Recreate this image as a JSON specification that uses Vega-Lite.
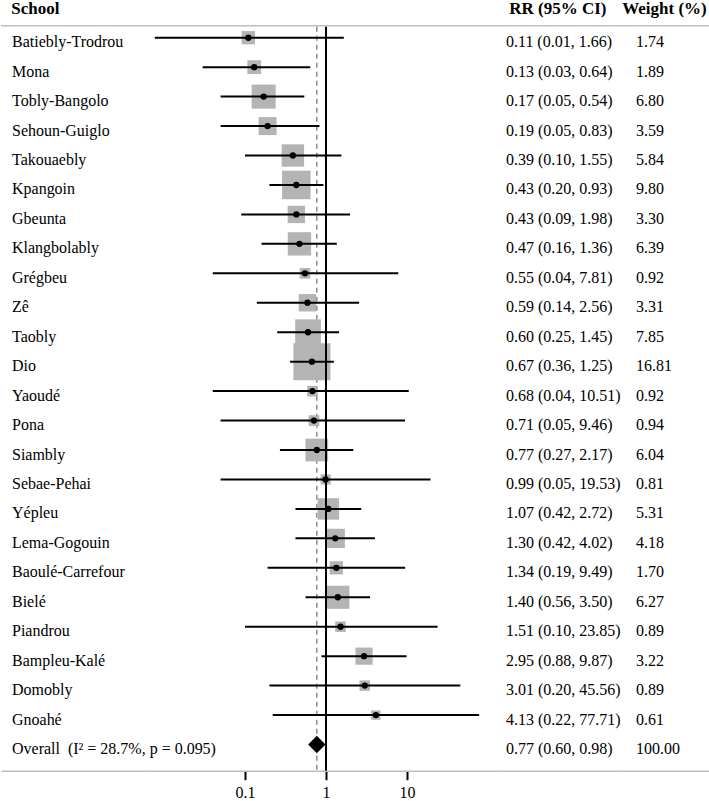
{
  "$schema": "https://vega.github.io/schema/vega-lite/v6.json",
  "padding": 0,
  "spacing": 0,
  "bounds": "flush",
  "background": "white",
  "config": {
    "font": "Liberation Serif, Times New Roman, DejaVu Serif, serif",
    "view": {"stroke": null},
    "title": {"font": "Liberation Serif, Times New Roman, DejaVu Serif, serif", "fontSize": 17, "fontWeight": "bold", "anchor": "start", "color": "black", "baseline": "alphabetic", "offset": 5}
  },
  "data": {
    "values": [
      {"School": "Batiebly-Trodrou", "label": "Batiebly-Trodrou", "rr": 0.11, "lo": 0.0077, "hi": 1.66, "ci": "0.11 (0.01, 1.66)", "w": "1.74", "weight": 1.74, "kind": "study"},
      {"School": "Mona", "label": "Mona", "rr": 0.13, "lo": 0.03, "hi": 0.64, "ci": "0.13 (0.03, 0.64)", "w": "1.89", "weight": 1.89, "kind": "study"},
      {"School": "Tobly-Bangolo", "label": "Tobly-Bangolo", "rr": 0.17, "lo": 0.05, "hi": 0.54, "ci": "0.17 (0.05, 0.54)", "w": "6.80", "weight": 6.80, "kind": "study"},
      {"School": "Sehoun-Guiglo", "label": "Sehoun-Guiglo", "rr": 0.19, "lo": 0.05, "hi": 0.83, "ci": "0.19 (0.05, 0.83)", "w": "3.59", "weight": 3.59, "kind": "study"},
      {"School": "Takouaebly", "label": "Takouaebly", "rr": 0.39, "lo": 0.10, "hi": 1.55, "ci": "0.39 (0.10, 1.55)", "w": "5.84", "weight": 5.84, "kind": "study"},
      {"School": "Kpangoin", "label": "Kpangoin", "rr": 0.43, "lo": 0.20, "hi": 0.93, "ci": "0.43 (0.20, 0.93)", "w": "9.80", "weight": 9.80, "kind": "study"},
      {"School": "Gbeunta", "label": "Gbeunta", "rr": 0.43, "lo": 0.09, "hi": 1.98, "ci": "0.43 (0.09, 1.98)", "w": "3.30", "weight": 3.30, "kind": "study"},
      {"School": "Klangbolably", "label": "Klangbolably", "rr": 0.47, "lo": 0.16, "hi": 1.36, "ci": "0.47 (0.16, 1.36)", "w": "6.39", "weight": 6.39, "kind": "study"},
      {"School": "Grégbeu", "label": "Grégbeu", "rr": 0.55, "lo": 0.04, "hi": 7.81, "ci": "0.55 (0.04, 7.81)", "w": "0.92", "weight": 0.92, "kind": "study"},
      {"School": "Zê", "label": "Zê", "rr": 0.59, "lo": 0.14, "hi": 2.56, "ci": "0.59 (0.14, 2.56)", "w": "3.31", "weight": 3.31, "kind": "study"},
      {"School": "Taobly", "label": "Taobly", "rr": 0.60, "lo": 0.25, "hi": 1.45, "ci": "0.60 (0.25, 1.45)", "w": "7.85", "weight": 7.85, "kind": "study"},
      {"School": "Dio", "label": "Dio", "rr": 0.67, "lo": 0.36, "hi": 1.25, "ci": "0.67 (0.36, 1.25)", "w": "16.81", "weight": 16.81, "kind": "study"},
      {"School": "Yaoudé", "label": "Yaoudé", "rr": 0.68, "lo": 0.04, "hi": 10.51, "ci": "0.68 (0.04, 10.51)", "w": "0.92", "weight": 0.92, "kind": "study"},
      {"School": "Pona", "label": "Pona", "rr": 0.71, "lo": 0.05, "hi": 9.46, "ci": "0.71 (0.05, 9.46)", "w": "0.94", "weight": 0.94, "kind": "study"},
      {"School": "Siambly", "label": "Siambly", "rr": 0.77, "lo": 0.27, "hi": 2.17, "ci": "0.77 (0.27, 2.17)", "w": "6.04", "weight": 6.04, "kind": "study"},
      {"School": "Sebae-Pehai", "label": "Sebae-Pehai", "rr": 0.99, "lo": 0.05, "hi": 19.53, "ci": "0.99 (0.05, 19.53)", "w": "0.81", "weight": 0.81, "kind": "study"},
      {"School": "Yépleu", "label": "Yépleu", "rr": 1.07, "lo": 0.42, "hi": 2.72, "ci": "1.07 (0.42, 2.72)", "w": "5.31", "weight": 5.31, "kind": "study"},
      {"School": "Lema-Gogouin", "label": "Lema-Gogouin", "rr": 1.30, "lo": 0.42, "hi": 4.02, "ci": "1.30 (0.42, 4.02)", "w": "4.18", "weight": 4.18, "kind": "study"},
      {"School": "Baoulé-Carrefour", "label": "Baoulé-Carrefour", "rr": 1.34, "lo": 0.19, "hi": 9.49, "ci": "1.34 (0.19, 9.49)", "w": "1.70", "weight": 1.70, "kind": "study"},
      {"School": "Bielé", "label": "Bielé", "rr": 1.40, "lo": 0.56, "hi": 3.50, "ci": "1.40 (0.56, 3.50)", "w": "6.27", "weight": 6.27, "kind": "study"},
      {"School": "Piandrou", "label": "Piandrou", "rr": 1.51, "lo": 0.10, "hi": 23.85, "ci": "1.51 (0.10, 23.85)", "w": "0.89", "weight": 0.89, "kind": "study"},
      {"School": "Bampleu-Kalé", "label": "Bampleu-Kalé", "rr": 2.95, "lo": 0.88, "hi": 9.87, "ci": "2.95 (0.88, 9.87)", "w": "3.22", "weight": 3.22, "kind": "study"},
      {"School": "Domobly", "label": "Domobly", "rr": 3.01, "lo": 0.20, "hi": 45.56, "ci": "3.01 (0.20, 45.56)", "w": "0.89", "weight": 0.89, "kind": "study"},
      {"School": "Gnoahé", "label": "Gnoahé", "rr": 4.13, "lo": 0.22, "hi": 77.71, "ci": "4.13 (0.22, 77.71)", "w": "0.61", "weight": 0.61, "kind": "study"},
      {"School": "Overall", "label": "Overall\u00a0\u00a0(I² = 28.7%, p = 0.095)", "rr": 0.77, "lo": 0.60, "hi": 0.98, "ci": "0.77 (0.60, 0.98)", "w": "100.00", "weight": 100, "kind": "overall"}
    ]
  },
  "hconcat": [
    {
      "width": 150,
      "height": 747.7,
      "title": {"text": "School", "dx": 11},
      "encoding": {
        "y": {"field": "School", "type": "nominal", "sort": null, "scale": {"type": "band", "domain": ["Batiebly-Trodrou","Mona","Tobly-Bangolo","Sehoun-Guiglo","Takouaebly","Kpangoin","Gbeunta","Klangbolably","Grégbeu","Zê","Taobly","Dio","Yaoudé","Pona","Siambly","Sebae-Pehai","Yépleu","Lema-Gogouin","Baoulé-Carrefour","Bielé","Piandrou","Bampleu-Kalé","Domobly","Gnoahé","Overall"], "paddingInner": 0, "paddingOuter": 0.1944, "align": 0}, "axis": null}
      },
      "layer": [
        {
          "transform": [{"filter": "datum.School === 'Batiebly-Trodrou'"}],
          "mark": {"type": "rule", "color": "#bdbdbd", "strokeWidth": 1.5},
          "encoding": {
            "y": {"field": "School", "type": "nominal", "bandPosition": 0.092}
          }
        },
        {
          "transform": [{"fold": ["label"], "as": ["key", "value"]}],
          "mark": {"type": "text", "align": "left", "baseline": "middle", "dx": 11, "dy": 4.5, "fontSize": 16, "color": "black"},
          "encoding": {
            "x": {"field": "key", "type": "nominal", "scale": {"type": "point", "padding": 0, "align": 0}, "axis": {"domain": true, "domainColor": "#bdbdbd", "domainWidth": 1.5, "ticks": false, "labels": false, "title": null, "grid": false}},
            "text": {"field": "value", "type": "nominal"}
          }
        }
      ]
    },
    {
      "width": 350,
      "height": 747.7,
      "encoding": {
        "y": {"field": "School", "type": "nominal", "sort": null, "scale": {"type": "band", "domain": ["Batiebly-Trodrou","Mona","Tobly-Bangolo","Sehoun-Guiglo","Takouaebly","Kpangoin","Gbeunta","Klangbolably","Grégbeu","Zê","Taobly","Dio","Yaoudé","Pona","Siambly","Sebae-Pehai","Yépleu","Lema-Gogouin","Baoulé-Carrefour","Bielé","Piandrou","Bampleu-Kalé","Domobly","Gnoahé","Overall"], "paddingInner": 0, "paddingOuter": 0.1944, "align": 0}, "axis": null}
      },
      "layer": [
        {
          "transform": [{"filter": "datum.School === 'Batiebly-Trodrou'"}],
          "mark": {"type": "rule", "color": "#bdbdbd", "strokeWidth": 1.5},
          "encoding": {
            "y": {"field": "School", "type": "nominal", "bandPosition": 0.092}
          }
        },
        {
          "transform": [{"filter": "datum.School === 'Batiebly-Trodrou'"}],
          "mark": {"type": "rule", "color": "#8c8c8c", "strokeWidth": 1.5, "strokeDash": [5, 4]},
          "encoding": {
            "x": {"datum": 0.77, "type": "quantitative"},
            "y": {"field": "School", "type": "nominal", "bandPosition": 0.13},
            "y2": {"value": "height"}
          }
        },
        {
          "transform": [{"filter": "datum.kind === 'study'"}],
          "mark": {"type": "square", "filled": true, "color": "#b4b4b4", "opacity": 1},
          "encoding": {
            "x": {"field": "rr", "type": "quantitative", "scale": {"type": "log", "domain": [0.006911, 144.7], "nice": false}, "axis": {"values": [0.1, 1, 10], "format": "~g", "domain": true, "domainColor": "#bdbdbd", "domainWidth": 1.5, "tickColor": "black", "tickWidth": 2, "tickSize": 9, "labelFontSize": 16, "labelColor": "black", "labelPadding": 5, "grid": false, "title": null}},
            "size": {"field": "weight", "type": "quantitative", "scale": {"domain": [0, 16.81], "range": [40, 1370], "zero": false}, "legend": null}
          }
        },
        {
          "transform": [{"filter": "datum.School === 'Batiebly-Trodrou'"}],
          "mark": {"type": "rule", "color": "black", "strokeWidth": 2},
          "encoding": {
            "x": {"datum": 1, "type": "quantitative"},
            "y": {"field": "School", "type": "nominal", "bandPosition": 0.13},
            "y2": {"value": "height"}
          }
        },
        {
          "transform": [{"filter": "datum.kind === 'study'"}],
          "mark": {"type": "rule", "color": "black", "strokeWidth": 2},
          "encoding": {
            "x": {"field": "lo", "type": "quantitative"},
            "x2": {"field": "hi"}
          }
        },
        {
          "transform": [{"filter": "datum.kind === 'study'"}],
          "mark": {"type": "point", "shape": "circle", "filled": true, "color": "black", "opacity": 1, "size": 40},
          "encoding": {
            "x": {"field": "rr", "type": "quantitative"}
          }
        },
        {
          "transform": [{"filter": "datum.kind === 'overall'"}],
          "mark": {"type": "point", "shape": "diamond", "filled": true, "color": "black", "opacity": 1, "size": 300},
          "encoding": {
            "x": {"field": "rr", "type": "quantitative"}
          }
        }
      ]
    },
    {
      "width": 122,
      "height": 747.7,
      "title": {"text": "RR (95% CI)", "dx": 9},
      "encoding": {
        "y": {"field": "School", "type": "nominal", "sort": null, "scale": {"type": "band", "domain": ["Batiebly-Trodrou","Mona","Tobly-Bangolo","Sehoun-Guiglo","Takouaebly","Kpangoin","Gbeunta","Klangbolably","Grégbeu","Zê","Taobly","Dio","Yaoudé","Pona","Siambly","Sebae-Pehai","Yépleu","Lema-Gogouin","Baoulé-Carrefour","Bielé","Piandrou","Bampleu-Kalé","Domobly","Gnoahé","Overall"], "paddingInner": 0, "paddingOuter": 0.1944, "align": 0}, "axis": null}
      },
      "layer": [
        {
          "transform": [{"filter": "datum.School === 'Batiebly-Trodrou'"}],
          "mark": {"type": "rule", "color": "#bdbdbd", "strokeWidth": 1.5},
          "encoding": {
            "y": {"field": "School", "type": "nominal", "bandPosition": 0.092}
          }
        },
        {
          "transform": [{"fold": ["ci"], "as": ["key", "value"]}],
          "mark": {"type": "text", "align": "left", "baseline": "middle", "dx": 5, "dy": 4.5, "fontSize": 16, "color": "black"},
          "encoding": {
            "x": {"field": "key", "type": "nominal", "scale": {"type": "point", "padding": 0, "align": 0}, "axis": {"domain": true, "domainColor": "#bdbdbd", "domainWidth": 1.5, "ticks": false, "labels": false, "title": null, "grid": false}},
            "text": {"field": "value", "type": "nominal"}
          }
        }
      ]
    },
    {
      "width": 87,
      "height": 747.7,
      "title": {"text": "Weight (%)", "dx": 0},
      "encoding": {
        "y": {"field": "School", "type": "nominal", "sort": null, "scale": {"type": "band", "domain": ["Batiebly-Trodrou","Mona","Tobly-Bangolo","Sehoun-Guiglo","Takouaebly","Kpangoin","Gbeunta","Klangbolably","Grégbeu","Zê","Taobly","Dio","Yaoudé","Pona","Siambly","Sebae-Pehai","Yépleu","Lema-Gogouin","Baoulé-Carrefour","Bielé","Piandrou","Bampleu-Kalé","Domobly","Gnoahé","Overall"], "paddingInner": 0, "paddingOuter": 0.1944, "align": 0}, "axis": null}
      },
      "layer": [
        {
          "transform": [{"filter": "datum.School === 'Batiebly-Trodrou'"}],
          "mark": {"type": "rule", "color": "#bdbdbd", "strokeWidth": 1.5},
          "encoding": {
            "y": {"field": "School", "type": "nominal", "bandPosition": 0.092}
          }
        },
        {
          "transform": [{"fold": ["w"], "as": ["key", "value"]}],
          "mark": {"type": "text", "align": "left", "baseline": "middle", "dx": 13, "dy": 4.5, "fontSize": 16, "color": "black"},
          "encoding": {
            "x": {"field": "key", "type": "nominal", "scale": {"type": "point", "padding": 0, "align": 0}, "axis": {"domain": true, "domainColor": "#bdbdbd", "domainWidth": 1.5, "ticks": false, "labels": false, "title": null, "grid": false}},
            "text": {"field": "value", "type": "nominal"}
          }
        }
      ]
    }
  ]
}
